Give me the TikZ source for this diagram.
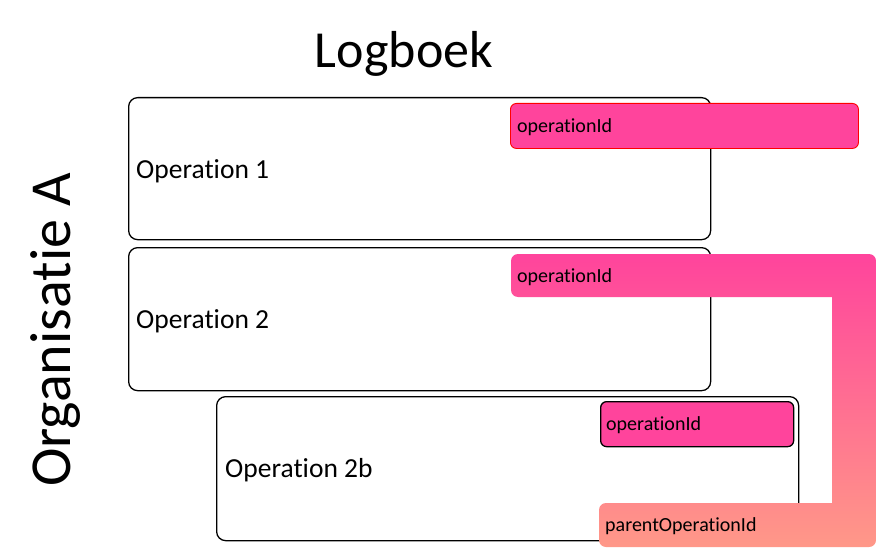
\documentclass[tikz,border=0pt]{standalone}
\usepackage{fontspec}
\setmainfont[Ligatures=NoCommon]{Carlito}
\definecolor{hotpink}{RGB}{255,68,156}
\definecolor{salmon}{RGB}{255,152,136}
\begin{document}
\begin{tikzpicture}[x=1pt,y=-1pt,
  opbox/.style={draw=black,line width=1.3pt,rounded corners=9pt,fill=white,anchor=north west,inner sep=0pt},
  idbox/.style={fill=hotpink,rounded corners=6pt,anchor=north west,inner sep=0pt},
  lbl/.style={anchor=base west,inner sep=0pt,font=\fontsize{27.5}{30}\selectfont},
  idlbl/.style={anchor=west,inner sep=0pt,font=\fontsize{20}{22}\selectfont}]
\useasboundingbox (0,0) rectangle (876,551);
% title
\node[anchor=base,inner sep=0pt,font=\fontsize{52}{56}\selectfont] (title) at (404,67) {Logboek};
\node[anchor=base,rotate=90,inner sep=0pt,font=\fontsize{58}{62}\selectfont] (org) at (70,330) {Organisatie A};
% operation boxes
\node[opbox,minimum width=582pt,minimum height=142pt] (op1) at (128,97) {};
\node[opbox,minimum width=582pt,minimum height=143pt] (op2) at (128,247) {};
\node[opbox,minimum width=582pt,minimum height=144pt] (op3) at (216,396) {};
\node[lbl] (t1) at (136,178) {Operation 1};
\node[lbl] (t2) at (136,328) {Operation 2};
\node[lbl] (t3) at (225,477) {Operation 2b};
% id boxes
\node[idbox,draw=red,line width=0.9pt,minimum width=348pt,minimum height=45pt] (id1) at (510,103) {};
\node[idlbl] (id1t) at (517,127) {operationId};
% L-shaped parent link
\shade[top color=hotpink,bottom color=salmon,rounded corners=7pt]
  (511,254) -- (876,254) -- (876,547) -- (599,547) -- (599,503) [sharp corners] -- (832,503)
  -- (832,297) [rounded corners=7pt] -- (511,297) -- cycle;
\node[idlbl] (id2t) at (517,277) {operationId};
\node[idlbl] (pt) at (605,526) {parentOperationId};
\node[idbox,draw=black,line width=1.3pt,minimum width=193pt,minimum height=45pt] (id3) at (600,401) {};
\node[idlbl] (id3t) at (606,425) {operationId};
\end{tikzpicture}
\end{document}
